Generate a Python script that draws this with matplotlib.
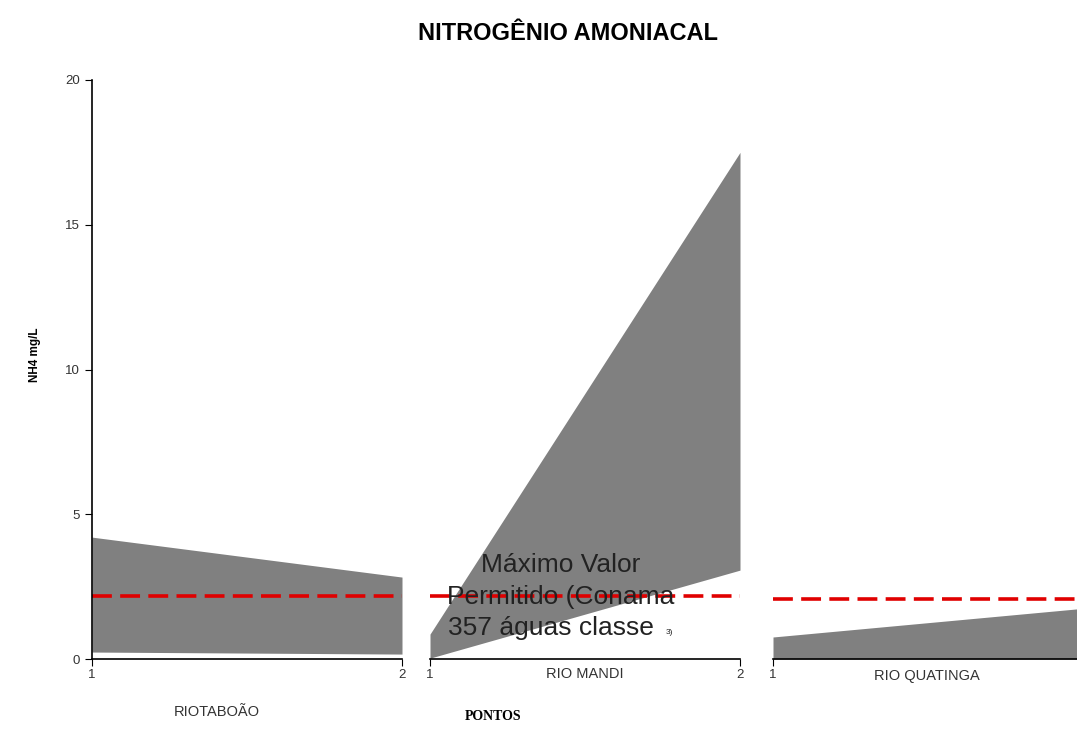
import matplotlib
matplotlib.use("Agg")
import matplotlib.pyplot as plt

plt.rcParams['font.family'] = ['Liberation Sans', 'DejaVu Sans']

# Data (min / max per sampling point)
points = [1, 2]
rivers = ['RIOTABOÃO', 'RIO MANDI', 'RIO QUATINGA']
taboao_min = [0.24, 0.17]
taboao_max = [4.21, 2.83]
mandi_min = [0.03, 3.07]
mandi_max = [0.86, 17.5]
quatinga_min = [0.0, 0.0]
quatinga_max = [0.76, 1.75]
limits = [2.18, 2.18, 2.08]

mins = [taboao_min, mandi_min, quatinga_min]
maxs = [taboao_max, mandi_max, quatinga_max]

fig = plt.figure(figsize=(10.77, 7.53), dpi=100)

W, H = 1077, 753
lefts = [92, 430, 773]
width = 310
bottom = (H - 659) / H
height = 579 / H

axes = []
for i in range(3):
    ax = fig.add_axes([lefts[i] / W, bottom, width / W, height])
    ax.fill_between(points, mins[i], maxs[i], color='#808080', linewidth=0)
    ax.plot(points, [limits[i]] * 2, color='#e00000', linewidth=2.6,
            linestyle=(0, (5.5, 2.3)))
    ax.set_xlim(1, 2)
    ax.set_ylim(0, 20)
    for s in ['top', 'right']:
        ax.spines[s].set_visible(False)
    ax.spines['bottom'].set_linewidth(1.2)
    # last panel is cut by the figure edge, only point 1 shows
    ax.set_xticks(points if i < 2 else points[:1])
    ax.tick_params(axis='x', direction='out', length=5, labelsize=9.5,
                   labelcolor='#333333', pad=2)
    ax.patch.set_alpha(0)
    if i == 0:
        ax.set_yticks([0, 5, 10, 15, 20])
        ax.tick_params(axis='y', direction='out', length=5, labelsize=9.5,
                       labelcolor='#333333')
        ax.spines['left'].set_linewidth(1.2)
    else:
        ax.spines['left'].set_visible(False)
        ax.set_yticks([])
    axes.append(ax)

# River names under each panel
fig.text(217 / W, 1 - 712 / H, rivers[0], ha='center', va='center',
         fontsize=10.5, color='#333333')
fig.text(585 / W, 1 - 674 / H, rivers[1], ha='center', va='center',
         fontsize=10.5, color='#333333')
fig.text(927 / W, 1 - 676 / H, rivers[2], ha='center', va='center',
         fontsize=10.5, color='#333333')

fig.text(493 / W, 1 - 717 / H, 'PONTOS', ha='center', va='center',
         fontsize=10, fontweight='bold', family=['Liberation Serif'])
fig.text(35 / W, 1 - 355 / H, 'NH4 mg/L', ha='center', va='center',
         rotation=90, fontsize=8.5, fontweight='bold')
fig.text(568 / W, 1 - 33 / H, 'NITROGÊNIO AMONIACAL', ha='center',
         va='center', fontsize=17, fontweight='bold')

# Reference limit annotation, one text per line
note_lines = ['Máximo Valor', 'Permitido (Conama', '357 águas classe']
note_x = [1.42, 1.42, 1.39]
note_y = [3.25, 2.14, 1.07]
for txt, x, y in zip(note_lines, note_x, note_y):
    axes[1].text(x, y, txt, ha='center', va='center', fontsize=19,
                 color='#222222')
axes[1].text(1.76, 0.9, '3)', ha='left', va='center', fontsize=6,
             color='#222222')

fig.savefig('out.png', dpi=100)
